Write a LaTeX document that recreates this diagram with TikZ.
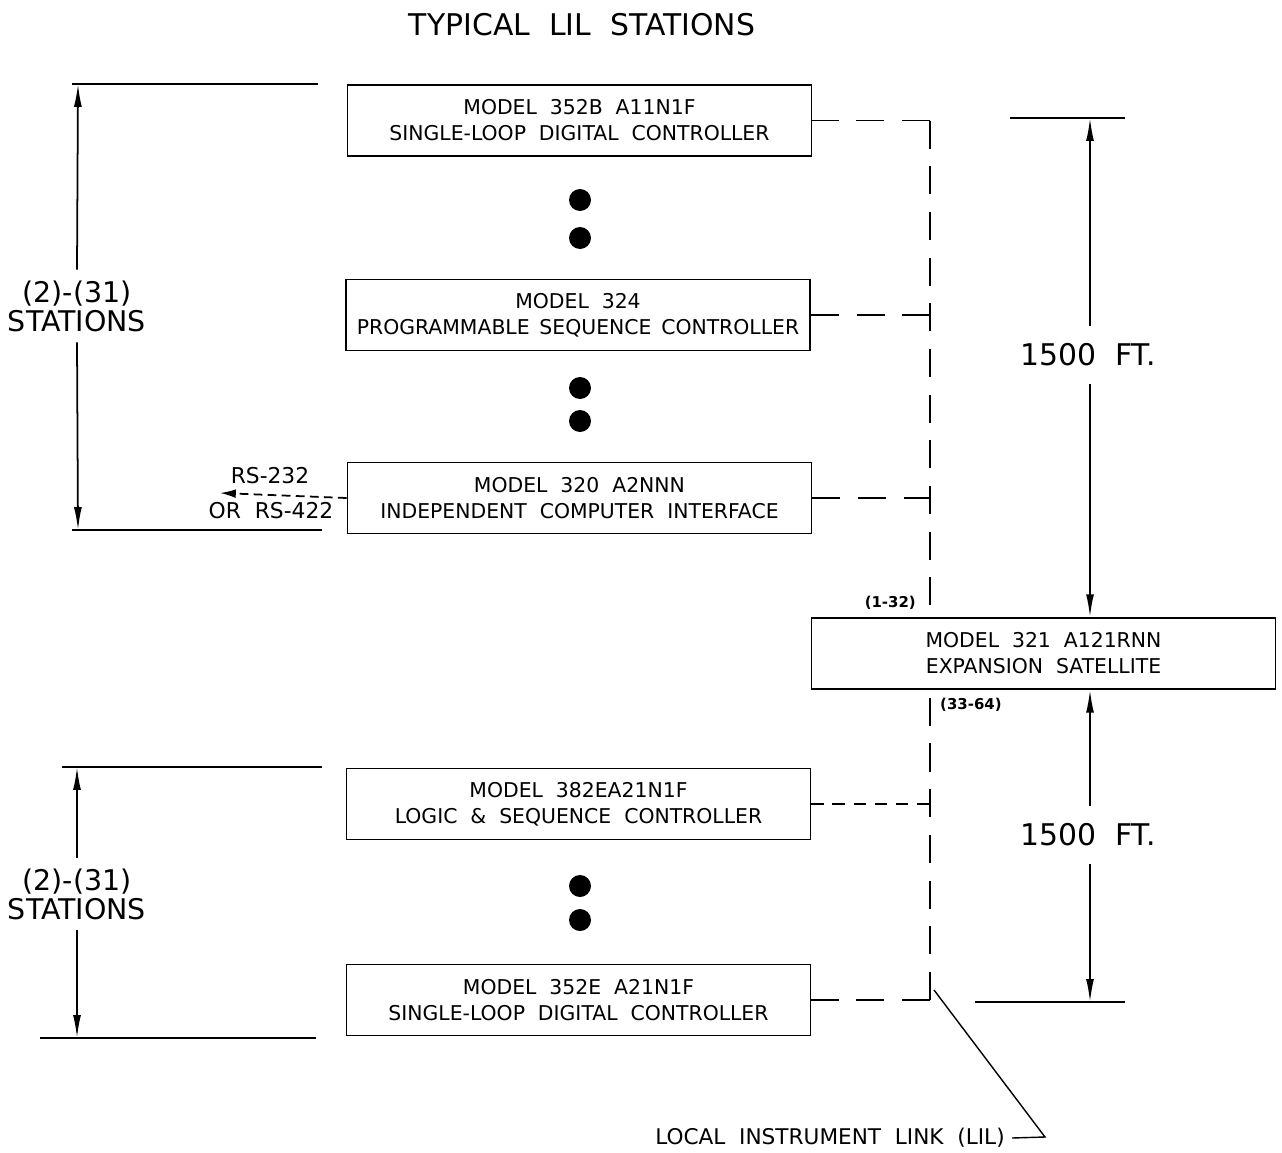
\documentclass[tikz,border=0pt]{standalone}
\usepackage{fontspec}
\setmainfont{DejaVu Sans}
\usetikzlibrary{arrows.meta}

\begin{document}
\begin{tikzpicture}[x=0.02cm,y=-0.02cm]

\tikzset{station/.style={draw,line width=1pt,minimum width=9.28cm,minimum height=1.42cm,
    inner sep=0pt,align=center,font=\fontsize{11.6}{14.8}\selectfont}}
\tikzset{lil/.style={line width=1pt,dash pattern=on 16pt off 10pt}}
\tikzset{dim/.style={line width=1pt,-{Latex[length=13pt,width=4.5pt]}}}
\tikzset{ext/.style={line width=1pt}}
\tikzset{dimtext/.style={align=center,font=\fontsize{16.2}{16.5}\selectfont,inner sep=6pt}}

\useasboundingbox (0,0) rectangle (1282,1153);

\node[font=\fontsize{17}{18}\selectfont] (title) at (582,25) {TYPICAL\ \ LIL\ \ STATIONS};

% stations
\node[station] (s1) at (579.5,120.5) {MODEL\ \ 352B\ \ A11N1F\\SINGLE-LOOP\ \ DIGITAL\ \ CONTROLLER};
\node[station] (s2) at (578,315) {MODEL\ \ 324\\PROGRAMMABLE\hspace{0.48em}SEQUENCE\hspace{0.48em}CONTROLLER};
\node[station] (s3) at (579.5,498) {MODEL\ \ 320\ \ A2NNN\\INDEPENDENT\ \ COMPUTER\ \ INTERFACE};
\node[station] (sat) at (1043.5,653.5) {MODEL\ \ 321\ \ A121RNN\\EXPANSION\ \ SATELLITE};
\node[station] (s5) at (578.5,804) {MODEL\ \ 382EA21N1F\\LOGIC\ \ \&\ \ SEQUENCE\ \ CONTROLLER};
\node[station] (s6) at (578.5,1000) {MODEL\ \ 352E\ \ A21N1F\\SINGLE-LOOP\ \ DIGITAL\ \ CONTROLLER};

\foreach \y in {200,238,388,421,886,920}
{
    \fill (580,\y) circle (0.22cm);
}

% local instrument link
\coordinate (bus) at (930,0);
\draw[lil] (s1.east -| bus) -- (sat.north -| bus);
\draw[lil] (s6.east -| bus) -- (sat.south -| bus);
\draw[lil] (s1.east -| bus) -- (s1.east);
\draw[lil] (s6.east -| bus) -- (s6.east);
\draw[lil] (s2.east) -- (s2.east -| bus);
\draw[lil] (s3.east) -- (s3.east -| bus);
\draw[line width=1pt,dash pattern=on 7pt off 5pt] (s5.east) -- (s5.east -| bus);

\node[font=\bfseries\fontsize{8.5}{9}\selectfont,anchor=east] (lo) at (922,603) {(1-32)};
\node[font=\bfseries\fontsize{8.5}{9}\selectfont,anchor=west] (hi) at (934,705) {(33-64)};

% serial port
\coordinate (host) at (220,493);
\draw[line width=1pt,dash pattern=on 5pt off 3pt,-{Latex[length=9pt,width=5pt]}] (s3.west) -- (host);
\node[font=\fontsize{12.4}{13}\selectfont] (rs1) at (270,476) {RS-232};
\node[font=\fontsize{12.4}{13}\selectfont] (rs2) at (271,511) {OR\ \ RS-422};

% leader
\node[font=\fontsize{12.3}{13}\selectfont,inner sep=4pt] (lilname) at (830,1138) {LOCAL\ \ INSTRUMENT\ \ LINK\ \ (LIL)};
\coordinate (knee) at (1045,1137);
\coordinate (tap) at (934,990);
\draw[line width=0.8pt] (tap) -- (knee) -- (lilname.east);

% station count, top
\coordinate (a1) at (78,84);
\coordinate (a2) at (78,530);
\draw[ext] (72,84) -- (318,84);
\draw[ext] (72,530) -- (322,530);
\node[dimtext] (n1) at (77,306) {(2)-(31)\\STATIONS};
\draw[dim] (n1.north) -- (a1);
\draw[dim] (n1.south) -- (a2);

% station count, bottom
\coordinate (b1) at (77,767);
\coordinate (b2) at (77,1038);
\draw[ext] (62,767) -- (322,767);
\draw[ext] (40,1038) -- (316,1038);
\node[dimtext] (n2) at (77,894) {(2)-(31)\\STATIONS};
\draw[dim] (n2.north) -- (b1);
\draw[dim] (n2.south) -- (b2);

% cable length
\coordinate (r1) at (1090,118);
\coordinate (r2) at (1090,1002);
\draw[ext] (1010,118) -- (1125,118);
\draw[ext] (975,1002) -- (1125,1002);
\node[dimtext,font=\fontsize{17}{18}\selectfont,inner sep=10pt] (ft1) at (1088,355) {1500\ \ FT.};
\node[dimtext,font=\fontsize{17}{18}\selectfont,inner sep=10pt] (ft2) at (1088,835) {1500\ \ FT.};
\draw[dim] (ft1.north -| r1) -- (r1);
\draw[dim] (ft1.south -| r1) -- (sat.north -| r1);
\draw[dim] (ft2.north -| r1) -- (sat.south -| r1);
\draw[dim] (ft2.south -| r1) -- (r2);

\end{tikzpicture}
\end{document}
